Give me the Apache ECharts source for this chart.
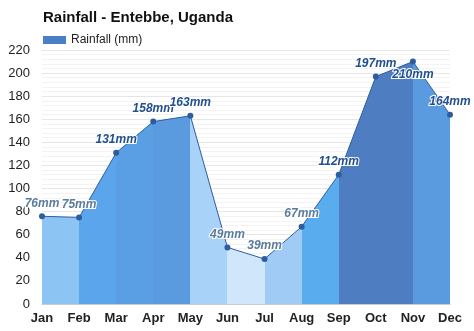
<!DOCTYPE html>
<html>
<head>
<meta charset="utf-8">
<script src="https://cdn.jsdelivr.net/npm/echarts@6/dist/echarts.min.js"></script>
<style>
  html, body { margin: 0; padding: 0; background: #fff; }
  #chart { width: 474px; height: 331px; }
</style>
</head>
<body>
<div id="chart"></div>
<script>
// Monthly rainfall, Entebbe
const months = ['Jan', 'Feb', 'Mar', 'Apr', 'May', 'Jun', 'Jul', 'Aug', 'Sep', 'Oct', 'Nov', 'Dec'];
const rainfall = [76, 75, 131, 158, 163, 49, 39, 67, 112, 197, 210, 164];
const yTicks = [0, 20, 40, 60, 80, 100, 120, 140, 160, 180, 200, 220];

// Fill colour of each band between consecutive months
const bandColors = ['#8cc4f4', '#5aa5ec', '#5a9fe3', '#5a9be0', '#a8d2f7', '#cfe6fb',
                    '#a0cbf4', '#59acee', '#4e7ec1', '#4e7ec1', '#5a9be0'];
// Label colours: muted for the dry months
const lightLabel = '#5b7b9c';
const darkLabel = '#214f8f';
const mutedMonths = [0, 1, 5, 6, 7];

const pieces = bandColors.map((c, i) => ({ gte: i, lt: i + 1, color: c }));
pieces[pieces.length - 1].lte = months.length - 1;
delete pieces[pieces.length - 1].lt;

const labelData = rainfall.map((v, i) => {
  const item = { value: v };
  const lab = { color: mutedMonths.includes(i) ? lightLabel : darkLabel };
  if (i === 10) { lab.position = 'bottom'; lab.distance = 4; }
  item.label = lab;
  return item;
});

const chart = echarts.init(document.getElementById('chart'));
chart.setOption({
  animation: false,
  title: {
    text: 'Rainfall - Entebbe, Uganda',
    left: 38, top: 5,
    textStyle: { fontFamily: 'Liberation Sans, Arial, sans-serif', fontSize: 15, fontWeight: 'bold', color: '#111' }
  },
  legend: {
    data: ['Rainfall (mm)'],
    left: 38, top: 29,
    itemWidth: 23, itemHeight: 8, itemGap: 5,
    icon: 'rect',
    textStyle: { fontFamily: 'Liberation Sans, Arial, sans-serif', fontSize: 12, color: '#222' }
  },
  grid: { left: 42, right: 24, top: 50, bottom: 27 },
  xAxis: {
    type: 'category',
    data: months,
    boundaryGap: false,
    axisLine: { lineStyle: { color: '#ccc' } },
    axisTick: { show: false },
    axisLabel: { color: '#222', fontWeight: 'bold', fontSize: 13, margin: 8, fontFamily: 'Liberation Sans, Arial, sans-serif' },
    splitLine: { show: false }
  },
  yAxis: {
    type: 'value',
    min: yTicks[0], max: yTicks[yTicks.length - 1], interval: 20,
    axisLabel: { color: '#222', fontSize: 13, margin: 12, fontFamily: 'Liberation Sans, Arial, sans-serif' },
    axisLine: { show: false },
    axisTick: { show: false },
    splitLine: { lineStyle: { color: '#e6e6e6' } },
    minorTick: { show: false, splitNumber: 5 },
    minorSplitLine: { show: true, lineStyle: { color: '#f3f3f3' } }
  },
  visualMap: {
    show: false,
    type: 'piecewise',
    dimension: 0,
    seriesIndex: 0,
    pieces: pieces
  },
  series: [
    {
      name: 'Rainfall (mm)',
      type: 'line',
      data: rainfall,
      symbol: 'none',
      lineStyle: { width: 0 },
      areaStyle: { opacity: 1 },
      itemStyle: { color: '#4a7fc6' },
      z: 1
    },
    {
      name: 'outline',
      type: 'line',
      data: labelData,
      symbol: 'circle',
      symbolSize: 6,
      lineStyle: { width: 1, color: '#2d5c9f' },
      itemStyle: { color: '#2d5c9f' },
      label: {
        show: true,
        position: 'top',
        distance: 4,
        formatter: p => p.value + 'mm',
        fontFamily: 'Liberation Sans, Arial, sans-serif',
        fontSize: 12,
        fontStyle: 'italic',
        fontWeight: 'bold',
        textBorderColor: '#fff',
        textBorderWidth: 2
      },
      z: 3
    }
  ]
});
</script>
</body>
</html>
